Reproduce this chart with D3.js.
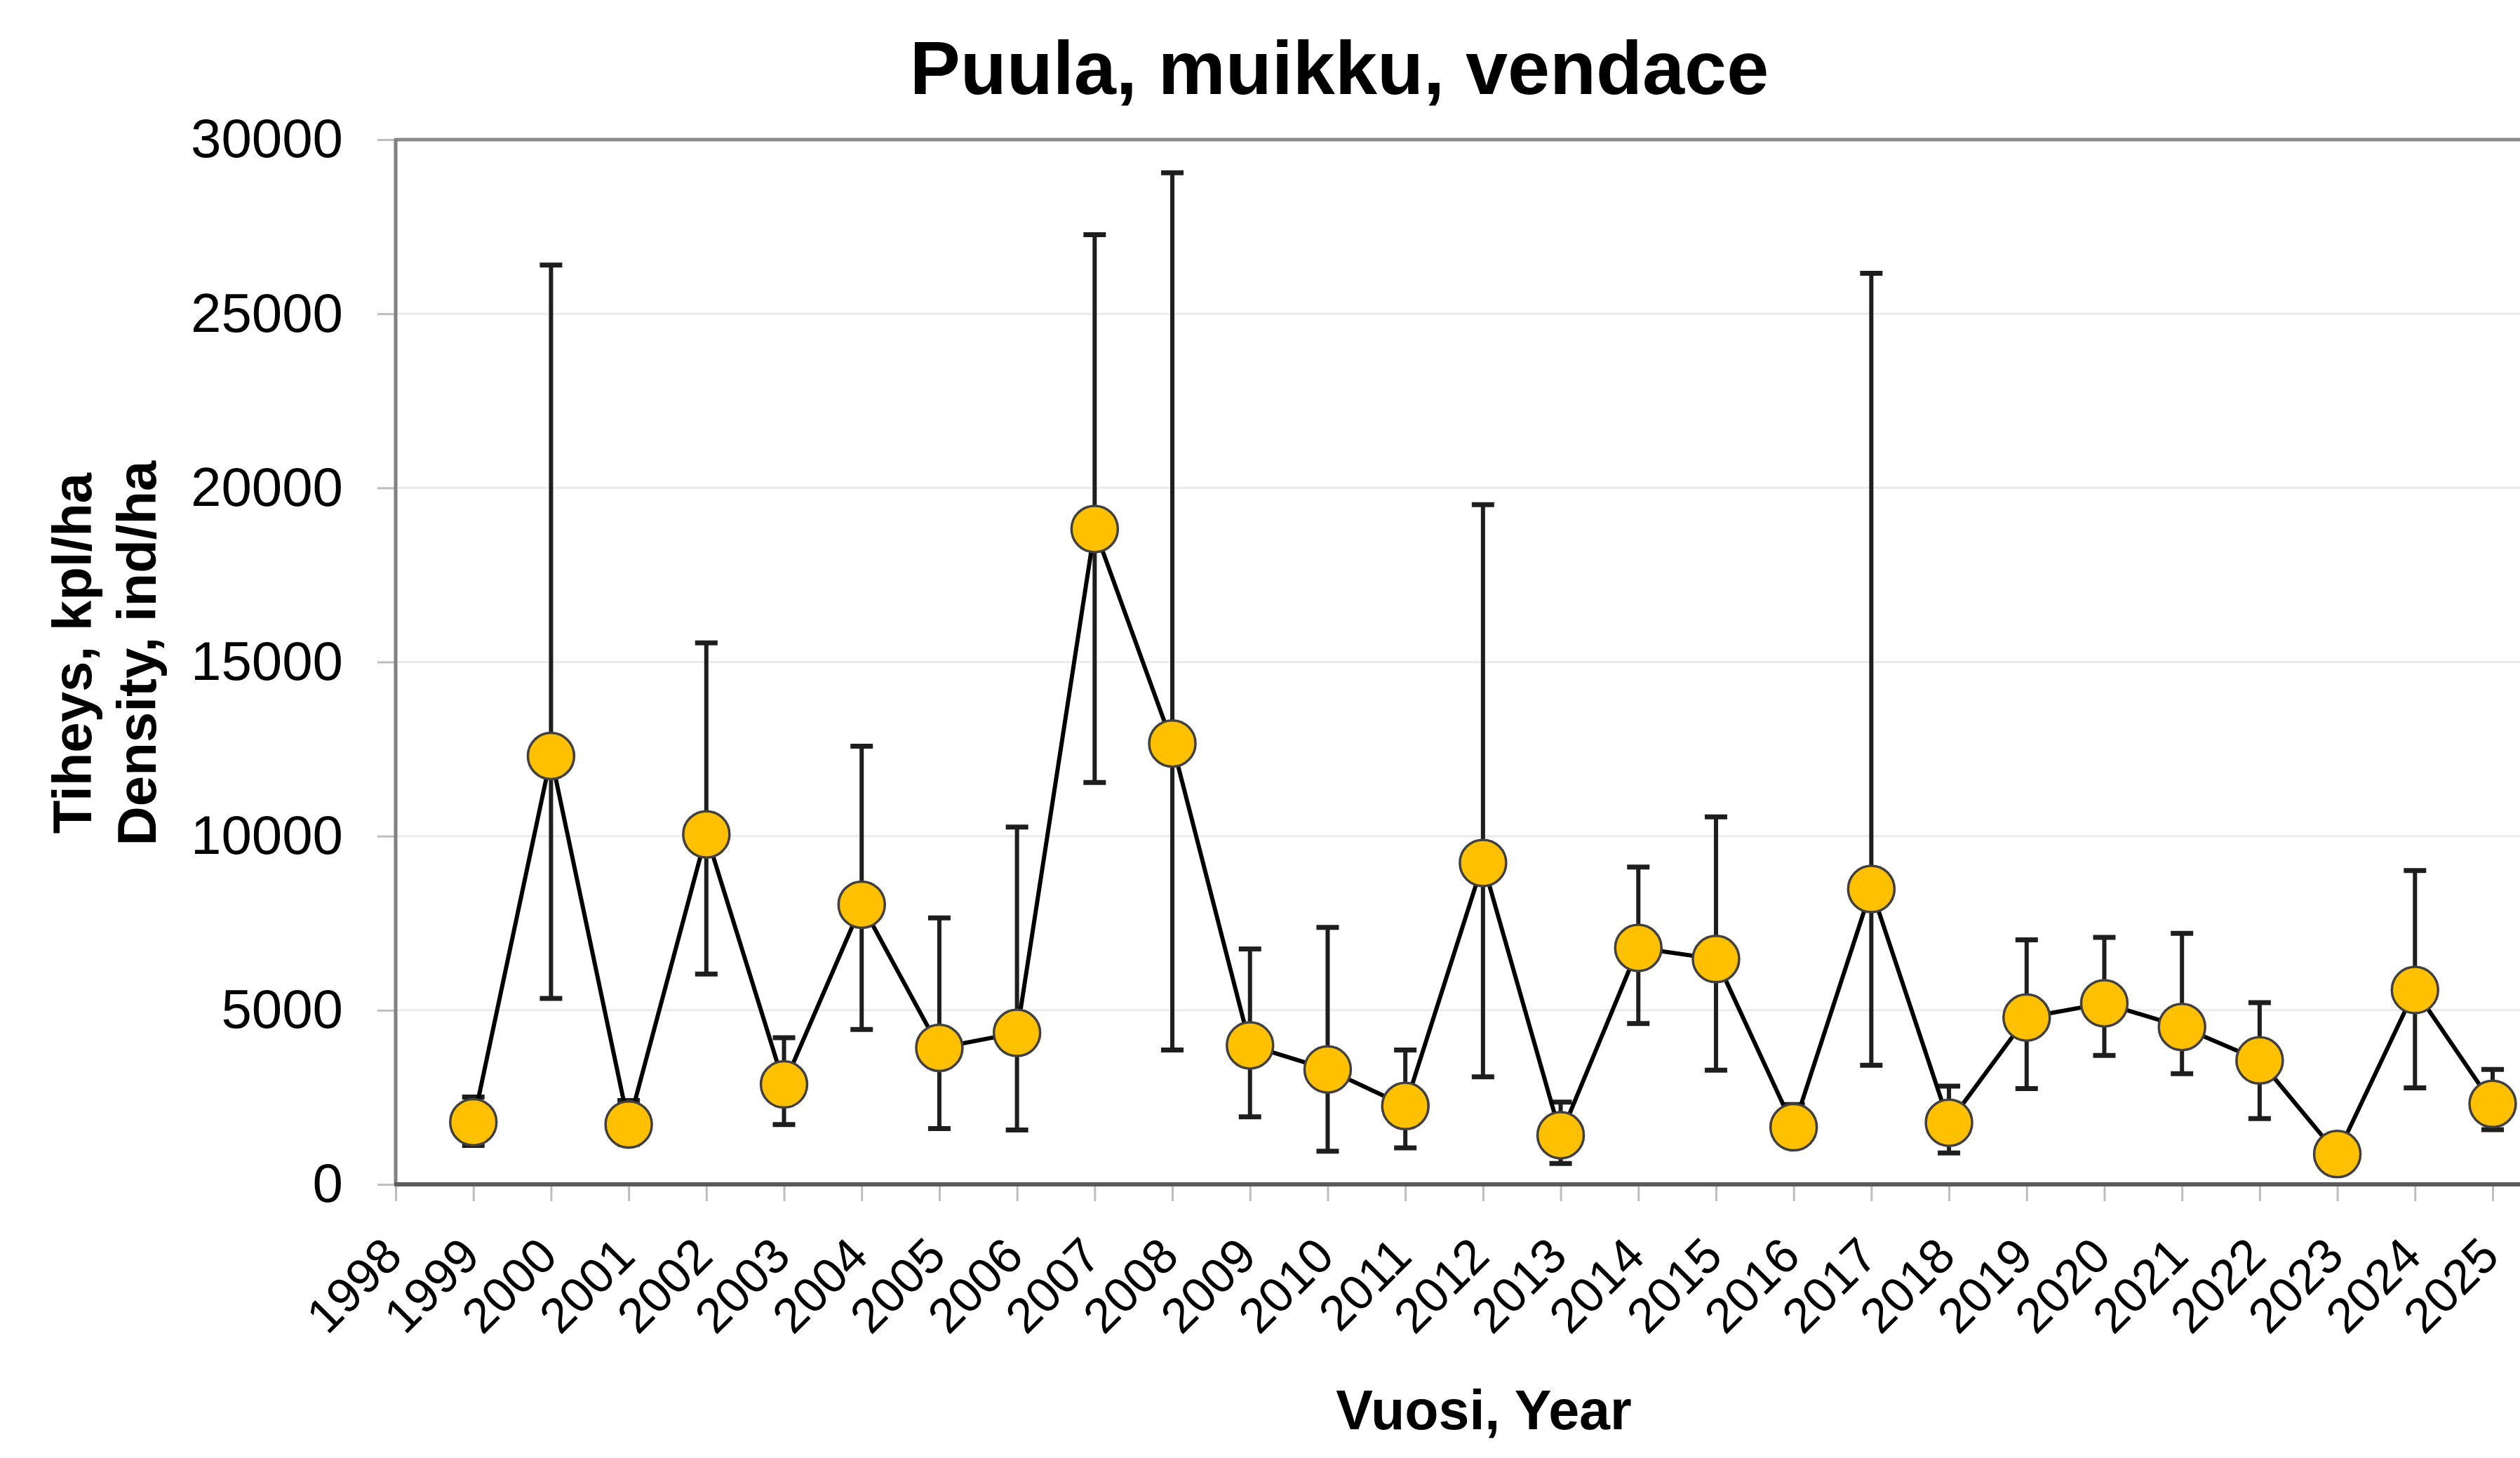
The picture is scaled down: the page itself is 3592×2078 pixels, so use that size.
<!DOCTYPE html>
<html>
<head>
<meta charset="utf-8">
<script src="https://cdn.jsdelivr.net/npm/d3@7"></script>
<style>
  html, body { margin: 0; padding: 0; background: #fff; }
  svg text { font-family: "Liberation Sans", Arial, sans-serif; fill: #000; }
</style>
</head>
<body>
<svg id="chart" width="3592" height="2078"></svg>
<script>
const tickYears = [1998, 1999, 2000, 2001, 2002, 2003, 2004, 2005, 2006, 2007, 2008, 2009, 2010, 2011,
  2012, 2013, 2014, 2015, 2016, 2017, 2018, 2019, 2020, 2021, 2022, 2023, 2024, 2025]
const years = [1999, 2000, 2001, 2002, 2003, 2004, 2005, 2006, 2007, 2008, 2009, 2010, 2011,
  2012, 2013, 2014, 2015, 2016, 2017, 2018, 2019, 2020, 2021, 2022, 2023, 2024, 2025]
const density = [1785, 12300, 1720, 10050, 2870, 8030, 3920, 4350, 18820, 12660, 3990, 3300, 2250,
  9230, 1410, 6790, 6470, 1640, 8480, 1770, 4790, 5200, 4520, 3560, 870, 5580, 2310]
const upper = [2510, 26400, 2410, 15550, 4210, 12580, 7650, 10260, 27270, 29050, 6760, 7380, 3860,
  19520, 2360, 9110, 10550, 2290, 26160, 2820, 7020, 7090, 7210, 5220, 1200, 9010, 3300]
const lower = [1120, 5340, 1150, 6040, 1720, 4450, 1600, 1560, 11540, 3860, 1940, 950, 1050,
  3090, 600, 4620, 3280, 1100, 3420, 900, 2750, 3700, 3180, 1890, 550, 2770, 1570]
const yTicks = [0, 5000, 10000, 15000, 20000, 25000, 30000]

const W = 3592
const plotL = 564, plotR = 3553, plotT = 199, plotB = 1688

const svg = d3.select('#chart')

const x = d3.scaleLinear().domain([1998, 2025]).range([plotL, plotR])
const y = d3.scaleLinear().domain([0, 30000]).range([plotB, plotT])

const data = years.map((yr, i) => ({ year: yr, v: density[i], hi: upper[i], lo: lower[i] }))

// gridlines
svg.append('g')
  .selectAll('line')
  .data(yTicks.filter(d => d > 0 && d < 30000))
  .enter().append('line')
    .attr('x1', plotL).attr('x2', W)
    .attr('y1', d => y(d)).attr('y2', d => y(d))
    .style('stroke', '#ebebeb')
    .style('stroke-width', 3)

// y axis
const yAxis = svg.append('g')
  .attr('transform', 'translate(' + plotL + ',0)')
  .call(d3.axisLeft(y).tickValues(yTicks).tickSize(26).tickPadding(49).tickSizeOuter(0).tickFormat(d3.format('d')))
yAxis.select('.domain').remove()
yAxis.selectAll('line').style('stroke', '#bdbdbd').style('stroke-width', 3)
yAxis.selectAll('text').style('font-size', '78px')

// x axis
const xAxis = svg.append('g')
  .attr('transform', 'translate(0,' + plotB + ')')
  .call(d3.axisBottom(x).tickValues(tickYears).tickSize(24).tickSizeOuter(0).tickFormat(d => d))
xAxis.select('.domain').remove()
xAxis.selectAll('line').style('stroke', '#bdbdbd').style('stroke-width', 3)
xAxis.selectAll('text')
  .style('font-size', '70px')
  .attr('text-anchor', 'end')
  .attr('x', 12).attr('y', 106).attr('dy', 0)
  .attr('transform', 'rotate(-45, 12, 106)')

// frame
svg.append('line').attr('x1', plotL).attr('x2', W).attr('y1', plotT).attr('y2', plotT)
  .style('stroke', '#8a8a8a').style('stroke-width', 5)
svg.append('line').attr('x1', plotL).attr('x2', plotL).attr('y1', plotT - 2).attr('y2', plotB)
  .style('stroke', '#808080').style('stroke-width', 5)
svg.append('line').attr('x1', plotL - 2).attr('x2', W).attr('y1', plotB).attr('y2', plotB)
  .style('stroke', '#5a5a5a').style('stroke-width', 6)

// error bars
const eb = svg.append('g').selectAll('g').data(data).enter().append('g')
eb.append('line')
  .attr('x1', d => x(d.year)).attr('x2', d => x(d.year))
  .attr('y1', d => y(d.hi)).attr('y2', d => y(d.lo))
  .style('stroke', '#1e1e1e').style('stroke-width', 6)
eb.selectAll('.cap').data(d => [[d.year, d.hi], [d.year, d.lo]]).enter().append('line')
  .attr('class', 'cap')
  .attr('x1', d => x(d[0]) - 16).attr('x2', d => x(d[0]) + 16)
  .attr('y1', d => y(d[1])).attr('y2', d => y(d[1]))
  .style('stroke', '#1e1e1e').style('stroke-width', 7)

// line
const line = d3.line().x(d => x(d.year)).y(d => y(d.v))
svg.append('path')
  .datum(data)
  .attr('d', line)
  .style('fill', 'none')
  .style('stroke', '#000')
  .style('stroke-width', 6)
  .style('stroke-linejoin', 'round')

// markers
svg.append('g').selectAll('circle')
  .data(data)
  .enter().append('circle')
    .attr('cx', d => x(d.year))
    .attr('cy', d => y(d.v))
    .attr('r', 33)
    .style('fill', '#ffc000')
    .style('stroke', '#404040')
    .style('stroke-width', 3.5)

// titles
svg.append('text')
  .attr('x', 1909).attr('y', 134)
  .attr('text-anchor', 'middle')
  .style('font-size', '108px').style('font-weight', 'bold')
  .text('Puula, muikku, vendace')

svg.append('text')
  .attr('x', 2115).attr('y', 2037)
  .attr('text-anchor', 'middle')
  .style('font-size', '79px').style('font-weight', 'bold')
  .text('Vuosi, Year')

const yTitle = svg.append('text')
  .attr('transform', 'translate(130,931) rotate(-90)')
  .attr('text-anchor', 'middle')
  .style('font-size', '78px').style('font-weight', 'bold')
yTitle.append('tspan').attr('x', 0).attr('y', 0).text('Tiheys, kpl/ha')
yTitle.append('tspan').attr('x', 0).attr('y', 92).text('Density, ind/ha')
</script>
</body>
</html>
